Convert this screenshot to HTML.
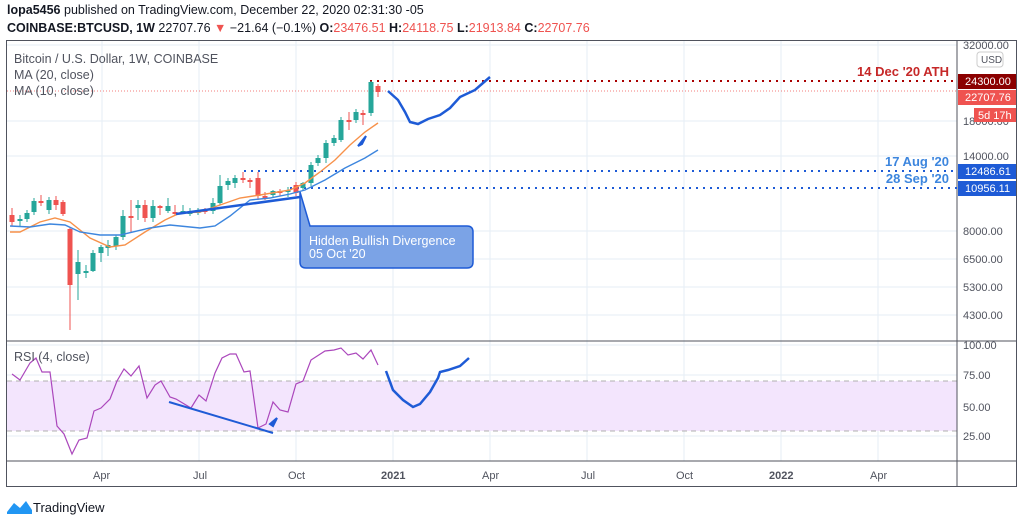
<!DOCTYPE html>
<html><head><meta charset="utf-8"><style>
body{margin:0;width:1024px;height:523px;background:#fff;font-family:"Liberation Sans",sans-serif;overflow:hidden;position:relative}
.t{position:absolute;white-space:nowrap}
</style></head><body>
<div class="t" style="left:7px;top:3px;font-size:12.5px;color:#131722"><b>lopa5456</b> published on TradingView.com, December 22, 2020 02:31:30 -05</div>
<div class="t" style="left:7px;top:21px;font-size:12.5px;color:#131722"><b>COINBASE:BTCUSD, 1W</b> 22707.76 <span style="color:#ef5350">▼</span> −21.64 (−0.1%) <b>O:</b><span style="color:#ef5350">23476.51</span> <b>H:</b><span style="color:#ef5350">24118.75</span> <b>L:</b><span style="color:#ef5350">21913.84</span> <b>C:</b><span style="color:#ef5350">22707.76</span></div>
<svg id="s" width="1024" height="523" style="position:absolute;left:0;top:0" font-family="Liberation Sans, sans-serif">
<g stroke="#e6eef5" stroke-width="1">
<line x1="102" y1="41" x2="102" y2="461"/><line x1="199" y1="41" x2="199" y2="461"/><line x1="296" y1="41" x2="296" y2="461"/><line x1="393" y1="41" x2="393" y2="461"/><line x1="490" y1="41" x2="490" y2="461"/><line x1="587" y1="41" x2="587" y2="461"/><line x1="684" y1="41" x2="684" y2="461"/><line x1="781" y1="41" x2="781" y2="461"/><line x1="878" y1="41" x2="878" y2="461"/>
<line x1="7" y1="45" x2="957" y2="45"/><line x1="7" y1="121" x2="957" y2="121"/><line x1="7" y1="156" x2="957" y2="156"/><line x1="7" y1="231" x2="957" y2="231"/><line x1="7" y1="259" x2="957" y2="259"/><line x1="7" y1="287" x2="957" y2="287"/><line x1="7" y1="315" x2="957" y2="315"/>
<line x1="7" y1="345" x2="957" y2="345"/><line x1="7" y1="375" x2="957" y2="375"/><line x1="7" y1="407" x2="957" y2="407"/><line x1="7" y1="436" x2="957" y2="436"/>
</g>
<rect x="7" y="381" width="950" height="50" fill="#f3e5fd"/>
<line x1="7" y1="381" x2="957" y2="381" stroke="#b0b0b0" stroke-dasharray="5,4"/>
<line x1="7" y1="431" x2="957" y2="431" stroke="#b0b0b0" stroke-dasharray="5,4"/>
<rect x="6.5" y="40.5" width="1010" height="446" fill="none" stroke="#50535e"/>
<line x1="957" y1="40" x2="957" y2="487" stroke="#50535e"/>
<line x1="7" y1="341" x2="1016" y2="341" stroke="#50535e"/>
<line x1="7" y1="461" x2="1016" y2="461" stroke="#50535e"/>
<line x1="7" y1="91" x2="957" y2="91" stroke="#ef5350" stroke-width="0.8" stroke-dasharray="1,2"/>
<line x1="370" y1="81" x2="957" y2="81" stroke="#a00" stroke-width="2" stroke-dasharray="2,5"/>
<line x1="244" y1="171" x2="957" y2="171" stroke="#1e5bd6" stroke-width="2" stroke-dasharray="2,5"/>
<line x1="290" y1="188" x2="957" y2="188" stroke="#1e5bd6" stroke-width="2" stroke-dasharray="2,5"/>
<g id="c"></g>
<polyline fill="none" stroke="#f7914a" stroke-width="1.4" points="10,232 20,232 40,222 55,218 70,222 90,238 110,247 125,245 145,232 165,220 180,213 200,212 220,205 240,198 260,195 290,190 305,183 320,172 335,160 350,145 365,132 378,123"/>
<polyline fill="none" stroke="#3d86de" stroke-width="1.4" points="10,226 30,227 50,224 65,225 80,232 100,235 120,235 150,228 170,225 200,228 215,226 230,216 250,200 270,198 290,194 305,190 325,180 345,168 365,158 378,150"/>
<line x1="176" y1="214" x2="300" y2="197" stroke="#1e5bd6" stroke-width="2.5"/>
<path d="M358,146 L366,136 L362,144 Z" fill="#1e5bd6" stroke="#1e5bd6" stroke-width="2"/>
<polyline fill="none" stroke="#1e5bd6" stroke-width="2.5" points="388,91 398,100 405,112 410,122 418,124 428,119 440,115 450,108 460,97 475,90 483,83 490,77"/>
<path d="M300,192 L310,226 L467,226 Q473,226 473,232 L473,262 Q473,268 467,268 L306,268 Q300,268 300,262 Z" fill="#7ba3e6" stroke="#1e5bd6" stroke-width="1.5"/>
<text x="309" y="245" font-size="12.5" fill="#fff">Hidden Bullish Divergence</text>
<text x="309" y="258" font-size="12.5" fill="#fff">05 Oct '20</text>
<polyline fill="none" stroke="#ab47bc" stroke-width="1.2" points="12,374 20,380 30,363 36,358 42,372 50,372 57,426 64,434 72,454 79,440 87,438 94,411 101,408 110,399 117,381 124,369 131,376 139,366 147,398 155,385 161,381 170,397 176,399 191,408 199,395 206,401 215,373 222,358 230,354 236,354 244,372 250,371 258,428 266,424 273,402 280,410 288,412 296,384 303,381 311,360 325,351 334,350 341,348 348,355 356,353 363,359 371,350 378,365"/>
<line x1="169" y1="402" x2="273" y2="433" stroke="#1e5bd6" stroke-width="2"/>
<path d="M270,424 L277,418 L273,426 Z" fill="#1e5bd6" stroke="#1e5bd6" stroke-width="2"/>
<polyline fill="none" stroke="#1e5bd6" stroke-width="2.5" points="386,371 393,390 403,400 413,407 420,404 430,392 438,378 440,372 448,370 460,366 469,358"/>
<g font-size="11" fill="#50535e">
<text x="14" y="63" font-size="12.5" fill="#50535e">Bitcoin / U.S. Dollar, 1W, COINBASE</text>
<text x="14" y="79" font-size="12.5">MA (20, close)</text>
<text x="14" y="95" font-size="12.5">MA (10, close)</text>
<text x="14" y="361" font-size="12.5">RSI (4, close)</text>
<text x="963" y="49">32000.00</text><text x="963" y="125">18000.00</text><text x="963" y="160">14000.00</text><text x="963" y="235">8000.00</text><text x="963" y="263">6500.00</text><text x="963" y="291">5300.00</text><text x="963" y="319">4300.00</text>
<text x="963" y="349">100.00</text><text x="963" y="379">75.00</text><text x="963" y="411">50.00</text><text x="963" y="440">25.00</text>
<text x="93" y="479">Apr</text><text x="193" y="479">Jul</text><text x="288" y="479">Oct</text><text x="381" y="479" font-weight="bold">2021</text><text x="482" y="479">Apr</text><text x="581" y="479">Jul</text><text x="676" y="479">Oct</text><text x="769" y="479" font-weight="bold">2022</text><text x="870" y="479">Apr</text>
</g>
<rect x="977" y="52" width="26" height="15" rx="3" fill="#fff" stroke="#ccc"/><text x="981" y="63" font-size="10" fill="#50535e">USD</text>
<rect x="958" y="74" width="58" height="15" fill="#8b0000"/><text x="965" y="85" font-size="11" fill="#fff">24300.00</text>
<rect x="958" y="90" width="58" height="15" fill="#ef5350"/><text x="965" y="101" font-size="11" fill="#fff">22707.76</text>
<rect x="974" y="108" width="42" height="14" fill="#ef5350"/><text x="978" y="119" font-size="11" fill="#fff">5d 17h</text>
<rect x="958" y="164" width="58" height="15" fill="#1e5bd6"/><text x="965" y="175" font-size="11" fill="#fff">12486.61</text>
<rect x="958" y="181" width="58" height="15" fill="#1e5bd6"/><text x="965" y="192" font-size="11" fill="#fff">10956.11</text>
<text x="949" y="76" font-size="13" fill="#c62828" text-anchor="end" font-weight="bold">14 Dec '20 ATH</text>
<text x="949" y="166" font-size="13" fill="#3d86de" text-anchor="end" font-weight="bold">17 Aug '20</text>
<text x="949" y="183" font-size="13" fill="#3d86de" text-anchor="end" font-weight="bold">28 Sep '20</text>
<path d="M7,512 L14,503 L20,508 L26,501 L32,510 L32,514 L7,514 Z" fill="#2196f3"/>
<text x="33" y="512" font-size="13" fill="#131722">TradingView</text>
</svg>
<script>
var d=[[12,215,222,208,226],[20,220,219,215,226],[27,219,213,210,222],[34,212,201,198,215],[41,201,203,195,206],[49,210,200,197,214],[56,200,205,196,210],[63,202,214,200,216],[70,229,285,227,330],[78,274,262,250,300],[86,273,271,265,278],[93,271,253,250,272],[101,253,247,245,262],[108,248,245,240,256],[116,246,237,235,250],[123,237,216,210,240],[131,216,218,200,232],[138,208,205,200,220],[145,205,218,200,222],[153,218,206,200,222],[160,206,208,205,215],[168,211,206,198,213],[175,212,213,205,216],[183,212,211,205,214],[190,213,212,208,216],[198,213,211,208,215],[205,210,211,208,214],[213,211,203,198,214],[220,203,186,175,205],[228,185,181,178,190],[235,183,178,175,188],[243,178,180,172,183],[250,180,181,178,188],[258,178,196,172,200],[265,196,196,192,200],[273,195,191,190,198],[280,191,191,189,196],[288,192,190,187,197],[296,185,193,182,196],[303,188,183,182,190],[311,183,165,162,186],[318,163,158,155,166],[326,158,143,140,163],[334,143,138,135,146],[341,140,120,117,142],[349,120,120,112,130],[356,120,112,109,123],[363,113,113,110,125],[371,113,82,81,116],[378,86,92,84,97]];
var g=document.getElementById('c'),h='';
d.forEach(function(c){var up=c[2]<c[1],col=up?'#26a69a':'#ef5350',t=Math.min(c[1],c[2]),b=Math.max(c[1],c[2]);if(b-t<2)b=t+2;
h+='<line x1="'+c[0]+'" y1="'+c[3]+'" x2="'+c[0]+'" y2="'+c[4]+'" stroke="'+col+'"/><rect x="'+(c[0]-2.5)+'" y="'+t+'" width="5" height="'+(b-t)+'" fill="'+col+'"/>';});
g.innerHTML=h;
</script>
</body></html>
